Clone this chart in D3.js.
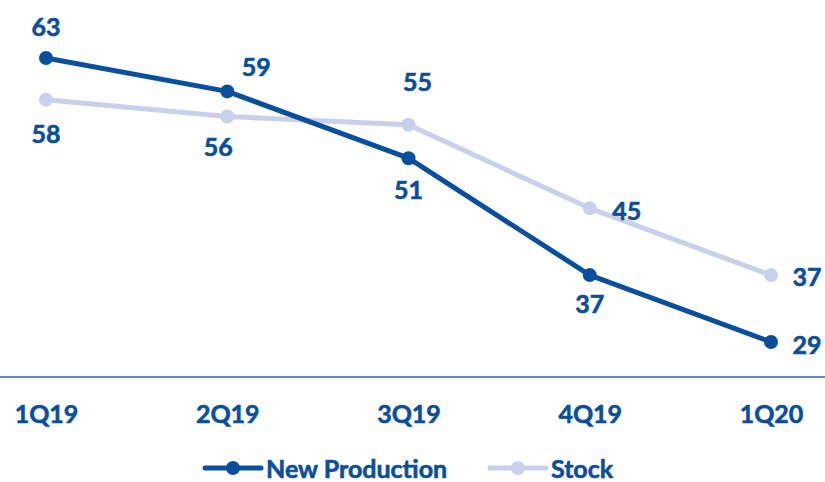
<!DOCTYPE html>
<html><head><meta charset="utf-8">
<script src="https://cdn.jsdelivr.net/npm/d3@7"></script>
<style>body{margin:0;background:#fff}svg{display:block}text{font-family:Lato,sans-serif;font-weight:bold}</style>
</head><body><svg id="c" width="825" height="482"></svg>
<script>
const categories = ["1Q19","2Q19","3Q19","4Q19","1Q20"];
const newProduction = [63,59,51,37,29];
const stock = [58,56,55,45,37];
const seriesNames = ["New Production","Stock"];
// label placement per point: [dx, dy]
const npLabelPos = [[0,-32],[29,-25],[0,31],[0,28],[36,2]];
const stLabelPos = [[0,33],[-9,30],[9,-44],[37,2],[36,1]];

const dark = "#0a4f9e", light = "#c9d0ec";
const FONT = "Lato,sans-serif";
const FS = "25px";
const svg = d3.select("#c");
const x = d3.scalePoint().domain(categories).range([46,771]);
const y = d3.scaleLinear().domain([24.8,63]).range([377,58]);

function styleText(sel){
  sel.attr("fill",dark).style("font-size",FS).style("font-family",FONT).style("font-weight","bold")
    .attr("stroke",dark).attr("stroke-width",0.6).attr("paint-order","stroke");
}

svg.append("line").attr("x1",0).attr("x2",825).attr("y1",377).attr("y2",377)
  .attr("stroke","#2b62a8").attr("stroke-width",1.5);

const xAxis = svg.append("g").attr("transform","translate(0,377)")
  .call(d3.axisBottom(x).tickSize(0).tickPadding(0));
xAxis.select(".domain").remove();
xAxis.selectAll("text").attr("dy",null).attr("y",36).attr("dominant-baseline","central").call(styleText);

function drawSeries(vals, color, pos){
  const g = svg.append("g");
  g.append("path").datum(vals)
    .attr("d", d3.line().x((d,i)=>x(categories[i])).y(d=>y(d)))
    .attr("fill","none").attr("stroke",color).attr("stroke-width",5).attr("stroke-linejoin","round");
  g.selectAll("circle").data(vals).join("circle")
    .attr("cx",(d,i)=>x(categories[i])).attr("cy",d=>y(d)).attr("r",7).attr("fill",color);
  g.selectAll("text").data(vals).join("text")
    .attr("x",(d,i)=>x(categories[i])+pos[i][0]).attr("y",(d,i)=>y(d)+pos[i][1])
    .attr("text-anchor","middle").attr("dominant-baseline","central")
    .text(d=>d).call(styleText);
}
drawSeries(stock, light, stLabelPos);
drawSeries(newProduction, dark, npLabelPos);

const legend = [{name:seriesNames[0],color:dark,x:205},{name:seriesNames[1],color:light,x:490}];
const lg = svg.append("g");
legend.forEach(l=>{
  lg.append("line").attr("x1",l.x).attr("x2",l.x+56).attr("y1",468).attr("y2",468)
    .attr("stroke",l.color).attr("stroke-width",5).attr("stroke-linecap","round");
  lg.append("circle").attr("cx",l.x+28).attr("cy",468).attr("r",7).attr("fill",l.color);
  lg.append("text").attr("x",l.x+61).attr("y",468).attr("dominant-baseline","central")
    .text(l.name).call(styleText);
});
</script></body></html>
